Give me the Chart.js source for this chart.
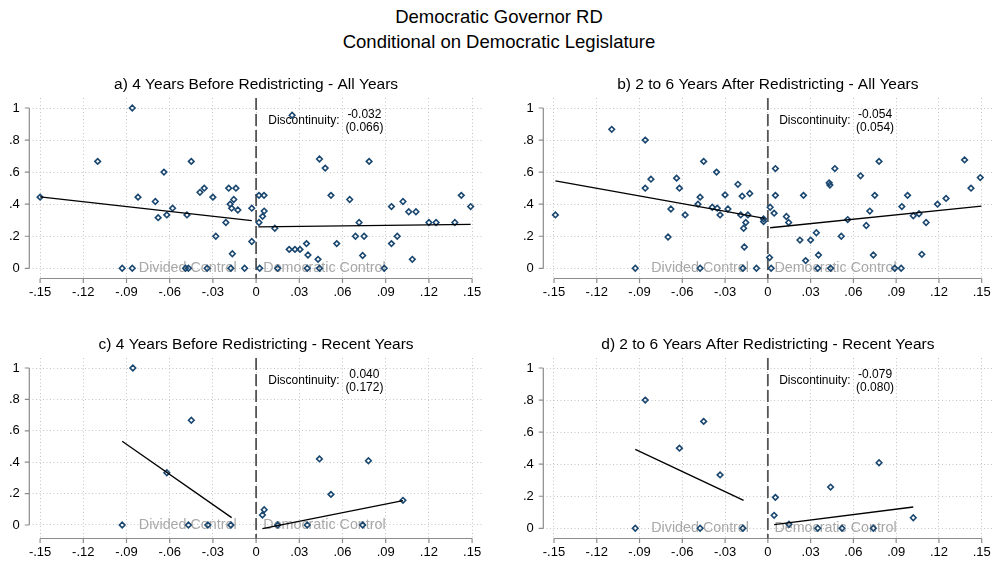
<!DOCTYPE html>
<html>
<head>
<meta charset="utf-8">
<script src="https://cdn.jsdelivr.net/npm/chart.js@4.4.1/dist/chart.umd.min.js"></script>
<style>
  html, body { margin: 0; padding: 0; background: #fff; }
  body { width: 998px; height: 563px; position: relative; overflow: hidden; font-family: "Liberation Sans", Arial, sans-serif; }
  .ttl { position: absolute; left: 0; width: 998px; text-align: center; font-size: 18.5px; line-height: 24px; color: #000; white-space: nowrap; }
  canvas { position: absolute; }
</style>
</head>
<body>
<div class="ttl" style="top:5px">Democratic Governor RD</div>
<div class="ttl" style="top:30px">Conditional on Democratic Legislature</div>
<canvas id="pa" width="499" height="250" style="left:0;top:60px"></canvas>
<canvas id="pb" width="499" height="250" style="left:499px;top:60px"></canvas>
<canvas id="pc" width="499" height="250" style="left:0;top:320px"></canvas>
<canvas id="pd" width="499" height="250" style="left:499px;top:320px"></canvas>
<script>
// axis ticks
const xTicks = [-0.15, -0.12, -0.09, -0.06, -0.03, 0, 0.03, 0.06, 0.09, 0.12, 0.15];
const xTickLabels = ["-.15", "-.12", "-.09", "-.06", "-.03", "0", ".03", ".06", ".09", ".12", ".15"];
const yTicks = [0, 0.2, 0.4, 0.6, 0.8, 1];
const yTickLabels = ["0", ".2", ".4", ".6", ".8", "1"];
const cutoff = 0;

const titles = [
  "a) 4 Years Before Redistricting - All Years",
  "b) 2 to 6 Years After Redistricting - All Years",
  "c) 4 Years Before Redistricting - Recent Years",
  "d) 2 to 6 Years After Redistricting - Recent Years"
];
const discEst = ["-0.032", "-0.054", "0.040", "-0.079"];
const discSe = ["(0.066)", "(0.054)", "(0.172)", "(0.080)"];
const sideLabels = ["Divided Control", "Democratic Control"];

// a) 4 years before - all years
const aX = [-0.150, -0.086, -0.110, -0.082, -0.064, -0.045, -0.070, -0.068, -0.062, -0.058, -0.048,
  -0.039, -0.036, -0.030, -0.019, -0.014, -0.018, -0.0155, -0.017, -0.0127, -0.003, -0.021, -0.028,
  -0.003, -0.0165, -0.093, -0.086, -0.049, -0.047, -0.034, -0.0175, -0.008,
  0.002, 0.0055, 0.002, 0.0045, 0.0056, 0.013, 0.025, 0.044, 0.048, 0.0785, 0.052, 0.065, 0.0715,
  0.069, 0.075, 0.094, 0.102, 0.106, 0.111, 0.120, 0.125, 0.138, 0.1425, 0.149, 0.098, 0.094, 0.1085,
  0.035, 0.056, 0.023, 0.027, 0.0305, 0.036, 0.074, 0.043, 0.0025, 0.015, 0.0355, 0.044, 0.089];
const aY = [0.444, 1.000, 0.667, 0.444, 0.600, 0.667, 0.417, 0.316, 0.333, 0.375, 0.333,
  0.474, 0.500, 0.444, 0.500, 0.500, 0.400, 0.429, 0.375, 0.364, 0.375, 0.286, 0.200,
  0.167, 0.091, 0, 0, 0, 0, 0, 0, 0,
  0.455, 0.455, 0.286, 0.324, 0.357, 0.250, 0.955, 0.682, 0.625, 0.667, 0.455, 0.429, 0.286,
  0.200, 0.200, 0.385, 0.417, 0.353, 0.353, 0.286, 0.286, 0.286, 0.455, 0.385, 0.200, 0.154, 0.056,
  0.154, 0.154, 0.118, 0.118, 0.118, 0.083, 0.080, 0.056, 0, 0, 0, 0, 0];
const aLineL = [[-0.150, 0.446], [-0.003, 0.297]];
const aLineR = [[0.0016, 0.259], [0.149, 0.274]];

// b) 2 to 6 years after - all years
const bX = [-0.149, -0.1095, -0.086, -0.082, -0.086, -0.064, -0.062, -0.045, -0.036, -0.068, -0.070,
  -0.058, -0.0475, -0.049, -0.039, -0.0355, -0.0335, -0.030, -0.028, -0.021, -0.018, -0.0127, -0.019,
  -0.014, -0.0155, -0.017, -0.0165, -0.003, -0.003, -0.093, -0.0475, -0.0175, -0.008,
  0.0053, 0.0053, 0.0016, 0.0044, 0.0012, 0.0023, 0.013, 0.0146, 0.025, 0.0225, 0.030, 0.034, 0.0265,
  0.0355, 0.035, 0.044, 0.043, 0.0435, 0.047, 0.0515, 0.056, 0.065, 0.0715, 0.075, 0.069, 0.074,
  0.078, 0.089, 0.0935, 0.094, 0.098, 0.102, 0.106, 0.108, 0.111, 0.119, 0.125, 0.138, 0.1425, 0.149];
const bY = [0.333, 0.867, 0.800, 0.556, 0.500, 0.5625, 0.500, 0.667, 0.600, 0.370, 0.195,
  0.333, 0.444, 0.400, 0.381, 0.375, 0.333, 0.458, 0.370, 0.524, 0.450, 0.467, 0.333,
  0.333, 0.286, 0.250, 0.133, 0.308, 0.292, 0, 0, 0, 0,
  0.622, 0.455, 0.381, 0.344, 0.067, 0, 0.323, 0.286, 0.455, 0.176, 0.176, 0.222, 0.048,
  0.083, 0, 0, 0.533, 0.519, 0.622, 0.200, 0.304, 0.577, 0.357, 0.455, 0.267, 0.083,
  0.667, 0, 0, 0.385, 0.455, 0.328, 0.340, 0.087, 0.286, 0.400, 0.436, 0.676, 0.500, 0.566];
const bLineL = [[-0.149, 0.546], [-0.0023, 0.311]];
const bLineR = [[0.0016, 0.253], [0.1498, 0.388]];

// c) 4 years before - recent years
const cX = [-0.0856, -0.045, -0.062, -0.093, -0.047, -0.0335, -0.0175,
  0.044, 0.078, 0.052, 0.102, 0.0056, 0.0044, 0.015, 0.0355, 0.074];
const cY = [1.000, 0.667, 0.333, 0, 0, 0, 0,
  0.421, 0.409, 0.195, 0.157, 0.097, 0.064, 0, 0, 0];
const cLineL = [[-0.093, 0.534], [-0.017, 0.047]];
const cLineR = [[0.0044, -0.023], [0.102, 0.155]];

// d) 2 to 6 years after - recent years
const dX = [-0.086, -0.045, -0.062, -0.0335, -0.093, -0.0475, -0.0175,
  0.078, 0.044, 0.0053, 0.0044, 0.0148, 0.102, 0.035, 0.052, 0.074];
const dY = [0.800, 0.667, 0.500, 0.333, 0, 0, 0,
  0.409, 0.257, 0.193, 0.081, 0.025, 0.066, 0, 0, 0];
const dLineL = [[-0.093, 0.492], [-0.017, 0.174]];
const dLineR = [[0.0044, 0.023], [0.102, 0.133]];

const FONT = '"Liberation Sans", Arial, Helvetica, sans-serif';
const NAVY = '#1a476f';

const stataPlugin = {
  id: 'stata',
  beforeDatasetsDraw(chart, args, o) {
    const { ctx, chartArea: ca, scales: { x, y } } = chart;
    ctx.save();
    // axis lines + ticks
    ctx.strokeStyle = '#8c8c8c';
    ctx.lineWidth = 1.2;
    ctx.beginPath();
    ctx.moveTo(ca.left, y.getPixelForValue(yTicks[yTicks.length - 1]));
    ctx.lineTo(ca.left, y.getPixelForValue(yTicks[0]));
    yTicks.forEach(v => {
      const p = y.getPixelForValue(v);
      ctx.moveTo(ca.left - 4.5, p);
      ctx.lineTo(ca.left, p);
    });
    ctx.moveTo(x.getPixelForValue(xTicks[0]), ca.bottom);
    ctx.lineTo(x.getPixelForValue(xTicks[xTicks.length - 1]), ca.bottom);
    xTicks.forEach(v => {
      const p = x.getPixelForValue(v);
      ctx.moveTo(p, ca.bottom);
      ctx.lineTo(p, ca.bottom + 4.5);
    });
    ctx.stroke();

    // cutoff line
    const cx = x.getPixelForValue(cutoff);
    ctx.setLineDash([12, 4]);
    ctx.strokeStyle = '#555';
    ctx.lineWidth = 1.8;
    ctx.beginPath();
    ctx.moveTo(cx, ca.top);
    ctx.lineTo(cx, ca.bottom);
    ctx.stroke();
    ctx.setLineDash([]);

    // panel title
    ctx.fillStyle = '#000';
    ctx.textBaseline = 'middle';
    ctx.textAlign = 'center';
    ctx.font = '15.5px ' + FONT;
    ctx.fillText(o.title, (ca.left + ca.right) / 2, ca.top - 13);

    // regime labels
    ctx.fillStyle = '#a8a8a8';
    ctx.font = '14.3px ' + FONT;
    ctx.fillText(sideLabels[0], x.getPixelForValue(-0.0475), y.getPixelForValue(0));
    ctx.fillText(sideLabels[1], x.getPixelForValue(0.0475), y.getPixelForValue(0));

    // discontinuity estimate
    ctx.fillStyle = '#000';
    ctx.font = '12px ' + FONT;
    ctx.textAlign = 'right';
    ctx.fillText('Discontinuity:', x.getPixelForValue(0.058), y.getPixelForValue(0.92));
    ctx.textAlign = 'center';
    ctx.fillText(o.est, x.getPixelForValue(0.0752), y.getPixelForValue(0.958));
    ctx.fillText(o.se, x.getPixelForValue(0.0752), y.getPixelForValue(0.877));
    ctx.restore();
  }
};

function pts(xs, ys) {
  return xs.map((v, i) => ({ x: v, y: ys[i] }));
}
function seg(line) {
  return line.map(p => ({ x: p[0], y: p[1] }));
}

function drawPanel(id, i, xs, ys, lineL, lineR, yMin, yMax, yAxisW, padRight) {
  const ctx = document.getElementById(id).getContext('2d');
  const fitStyle = { type: 'scatter', showLine: true, borderColor: '#000', borderWidth: 1.3, pointRadius: 0, fill: false };
  new Chart(ctx, {
    type: 'scatter',
    data: {
      datasets: [
        { ...fitStyle, data: seg(lineL) },
        { ...fitStyle, data: seg(lineR) },
        {
          data: pts(xs, ys),
          pointStyle: 'rectRot',
          pointRadius: 2.8,
          borderWidth: 1.6,
          borderColor: NAVY,
          backgroundColor: 'rgba(255,255,255,0)'
        }
      ]
    },
    options: {
      responsive: false,
      animation: false,
      events: [],
      devicePixelRatio: 1,
      layout: { padding: { top: 38, right: padRight, bottom: 0, left: 0 } },
      plugins: {
        legend: { display: false },
        tooltip: { enabled: false },
        stata: { title: titles[i], est: discEst[i], se: discSe[i] }
      },
      scales: {
        x: {
          type: 'linear',
          min: -0.1575,
          max: 0.1575,
          afterBuildTicks: s => { s.ticks = xTicks.map(v => ({ value: v })); },
          afterFit: s => { s.height = 31.5; s.paddingLeft = 0; s.paddingRight = 0; },
          grid: { color: '#c4c4c4', lineWidth: 1, drawTicks: false },
          border: { display: false, dash: [1, 2.5] },
          ticks: {
            padding: 6.2,
            maxRotation: 0,
            autoSkip: false,
            color: '#000',
            font: { family: FONT, size: 13, lineHeight: 1.2 },
            callback: (v, idx) => xTickLabels[idx]
          }
        },
        y: {
          type: 'linear',
          min: yMin,
          max: yMax,
          afterBuildTicks: s => { s.ticks = yTicks.map(v => ({ value: v })); },
          afterFit: s => { s.width = yAxisW; s.paddingTop = 0; s.paddingBottom = 0; },
          grid: { color: '#c4c4c4', lineWidth: 1, drawTicks: false },
          border: { display: false, dash: [1, 2.5] },
          ticks: {
            padding: 9.5,
            autoSkip: false,
            color: '#000',
            font: { family: FONT, size: 13, lineHeight: 1.2 },
            callback: (v, idx) => yTickLabels[idx]
          }
        }
      }
    },
    plugins: [stataPlugin]
  });
}

drawPanel('pa', 0, aX, aY, aLineL, aLineR, -0.0636, 1.0624, 29.3, 16.1);
drawPanel('pb', 1, bX, bY, bLineL, bLineR, -0.0636, 1.0624, 44.3, 0.7);
drawPanel('pc', 2, cX, cY, cLineL, cLineR, -0.086, 1.0637, 29.3, 16.1);
drawPanel('pd', 3, dX, dY, dLineL, dLineR, -0.0636, 1.0624, 44.3, 0.7);
</script>
</body>
</html>
